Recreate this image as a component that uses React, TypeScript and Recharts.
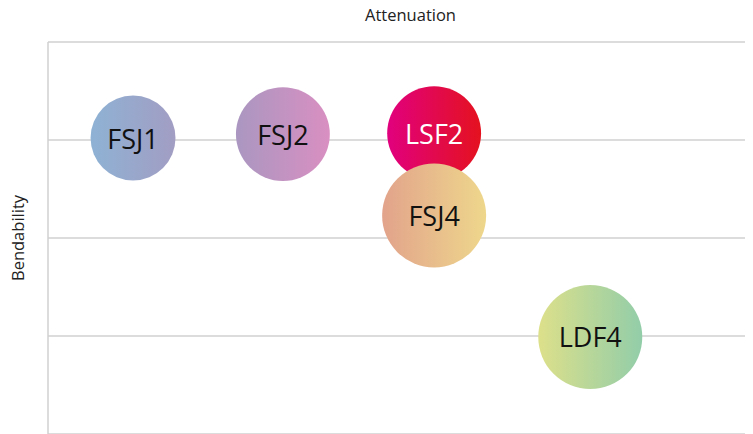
import React from "react";
import { ScatterChart, Scatter, XAxis, YAxis, ZAxis, CartesianGrid, Label } from "recharts";

const names = ["FSJ1", "FSJ2", "LSF2", "FSJ4", "LDF4"];
const attenuation = [1.22, 3.37, 5.54, 5.54, 7.78];
const bendability = [3.02, 3.06, 3.07, 2.23, 0.99];
const bubbleSize = [18, 22, 22, 27, 27];
const yTicks = [0, 1, 2, 3, 4];
const gradients = [
  ["#8eb2d4", "#a29dc3"],
  ["#aa97c1", "#d98fc1"],
  ["#e1007e", "#e4121f"],
  ["#e2a38b", "#eed78c"],
  ["#dde08a", "#92cda9"],
];
const labelColors = ["#111", "#111", "#fff", "#111", "#111"];

const data = names.map((name, i) => ({
  name,
  x: attenuation[i],
  y: bendability[i],
  z: bubbleSize[i],
  idx: i,
}));

const FONT = "'Open Sans', 'DejaVu Sans', sans-serif";

function Bubble(props: any) {
  const { cx, cy, width, payload } = props;
  const r = width / 2;
  const i = payload.idx;
  return (
    <g>
      <circle cx={cx} cy={cy} r={r} fill={`url(#grad${i})`} />
      <text
        x={cx}
        y={cy}
        textAnchor="middle"
        dominantBaseline="central"
        fontSize={27}
        fontFamily={FONT}
        fill={labelColors[i]}
      >
        {payload.name}
      </text>
    </g>
  );
}

export default function App() {
  return (
    <div style={{ position: "absolute", left: 0, top: 0, background: "#fff" }}>
      <ScatterChart width={753} height={434} margin={{ top: 0, right: 8, bottom: 0, left: 0 }}>
        <defs>
          {gradients.map((g, i) => (
            <linearGradient key={i} id={`grad${i}`} x1="0" y1="0" x2="1" y2="0">
              <stop offset="0%" stopColor={g[0]} />
              <stop offset="100%" stopColor={g[1]} />
            </linearGradient>
          ))}
        </defs>
        <CartesianGrid vertical={false} stroke="#d0d0d0" strokeWidth={1.5} />
        <XAxis
          type="number"
          dataKey="x"
          domain={[0, 10]}
          orientation="top"
          height={42}
          axisLine={false}
          tickLine={false}
          tick={() => null}
        >
          <Label
            value="Attenuation"
            position="insideTop"
            offset={9}
            dx={14}
            fill="#222"
            fontSize={16.5}
            fontFamily={FONT}
          />
        </XAxis>
        <YAxis
          type="number"
          dataKey="y"
          domain={[0, 4]}
          ticks={yTicks}
          width={48}
          axisLine={{ stroke: "#d0d0d0", strokeWidth: 1.5 }}
          tickLine={false}
          tick={() => null}
        >
          <Label
            value="Bendability"
            angle={-90}
            position="insideLeft"
            offset={18}
            style={{ textAnchor: "middle" }}
            fill="#222"
            fontSize={16.5}
            fontFamily={FONT}
          />
        </YAxis>
        <ZAxis type="number" dataKey="z" domain={[0, 27]} range={[0, Math.PI * 52 * 52]} />
        <Scatter data={data} shape={<Bubble />} isAnimationActive={false} />
      </ScatterChart>
    </div>
  );
}
